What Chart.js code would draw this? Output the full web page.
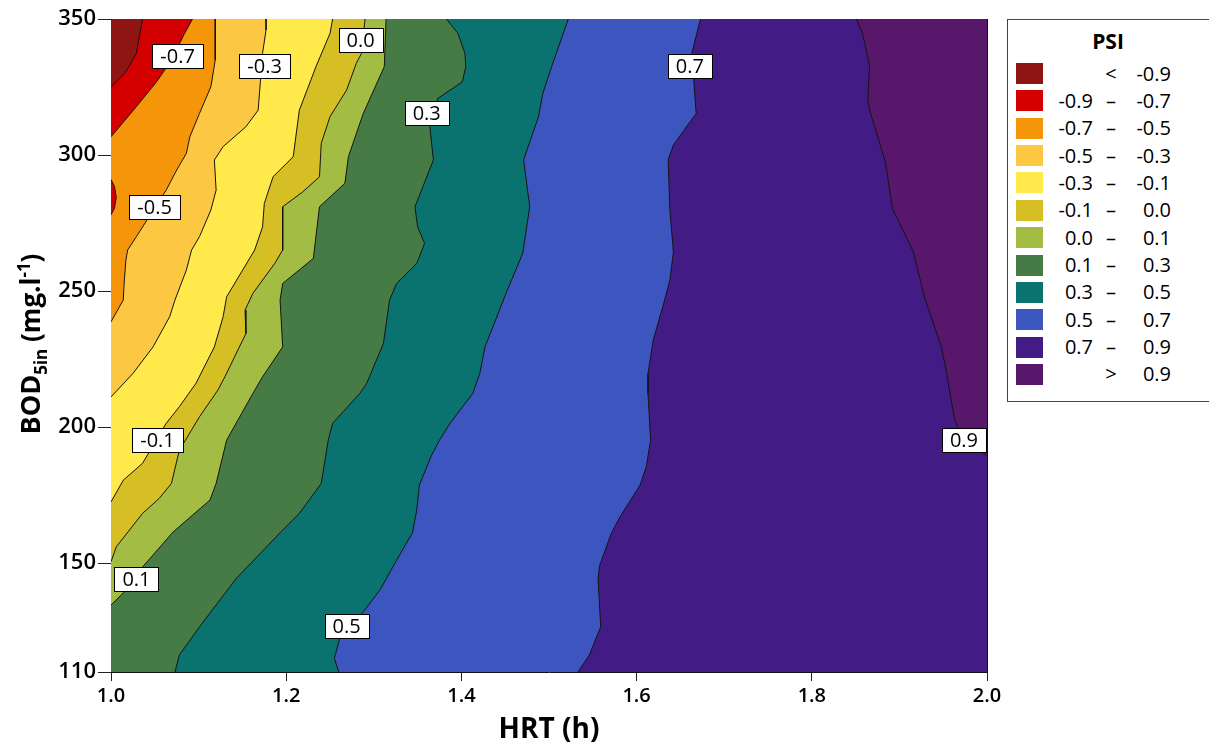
<!DOCTYPE html>
<html>
<head>
<meta charset="utf-8">
<script src="https://cdn.jsdelivr.net/npm/chart.js@4.4.1/dist/chart.umd.min.js"></script>
<style>
  html, body { margin: 0; padding: 0; background: #fff; }
  #wrap { position: relative; width: 1209px; height: 747px; overflow: hidden; font-family: "Open Sans", sans-serif; color: #000; }
  #c { position: absolute; left: 0; top: 0; }
  #legendBox { position: absolute; left: 1007px; top: 19px; width: 230px; height: 383px; border: 1px solid #444; box-sizing: border-box; background: #fff; }
  .lgTitle { position: absolute; left: 1007px; width: 202px; top: 27px; text-align: center; font-weight: bold; font-size: 21px; line-height: 28px; }
  .sw { position: absolute; left: 1016px; width: 27px; height: 21px; }
  .lg { position: absolute; font-size: 20px; line-height: 21px; height: 21px; white-space: pre; }
  .lo { left: 1040px; width: 53px; text-align: right; }
  .sep { left: 1099px; width: 24px; text-align: center; }
  .hi { left: 1120px; width: 51px; text-align: right; }
</style>
</head>
<body>
<div id="wrap">
  <canvas id="c" width="1209" height="747"></canvas>
  <div id="legendBox"></div>
  <div class="lgTitle">PSI</div>
</div>
<script>
// PSI bands (low to high) and legend text
var bandColors = ['#8F1515', '#D40000', '#F5960A', '#FCC844', '#FFE94B', '#D5BF24',
                  '#A3BC44', '#477B46', '#0A7370', '#3D55BE', '#421C84', '#58176A'];
var bandLo  = ['', '-0.9', '-0.7', '-0.5', '-0.3', '-0.1', '0.0', '0.1', '0.3', '0.5', '0.7', ''];
var bandSep = ['<', '–', '–', '–', '–', '–', '–', '–', '–', '–', '–', '>'];
var bandHi  = ['-0.9', '-0.7', '-0.5', '-0.3', '-0.1', '0.0', '0.1', '0.3', '0.5', '0.7', '0.9', '0.9'];

// axis ticks
var xTicks = [1.0, 1.2, 1.4, 1.6, 1.8, 2.0];
var yTicks = [110, 150, 200, 250, 300, 350];

// contour lines [HRT, BOD]
var c_m09 = [[1.036,350],[1.029,337.4],[1.017,330.6],[1.0,324.9]];
var c_m07 = [[1.093,350],[1.084,344.7],[1.069,334.9],[1.052,326.9],[1.029,317.8],[1.0,306.7]];
var c_m07b = [[1.0,291],[1.004,288.5],[1.006,284.5],[1.004,280.5],[1.0,278]];
var c_m05 = [[1.119,350],[1.119,334.9],[1.114,325.1],[1.101,315.3],[1.090,306.7],[1.086,300.6],[1.075,294.5],
             [1.063,287.1],[1.046,278.6],[1.029,270.0],[1.019,265.1],[1.017,261.4],[1.015,252.8],[1.014,246.7],[1.0,238.7]];
var c_m03 = [[1.177,350],[1.177,346.0],[1.173,337.4],[1.168,316.5],[1.154,310.4],[1.128,303.1],[1.118,298.2],
             [1.120,287.1],[1.114,279.8],[1.101,270.0],[1.092,265.1],[1.086,257.7],[1.073,246.7],[1.067,240.6],
             [1.048,229.5],[1.025,219.7],[1.0,211.1]];
var c_m01 = [[1.253,350],[1.250,344.7],[1.234,332.5],[1.215,316.5],[1.208,299.4],[1.185,292.0],[1.175,282.2],
             [1.173,273.6],[1.164,265.1],[1.132,247.9],[1.128,240.6],[1.118,229.5],[1.097,216.1],[1.078,207.5],
             [1.063,201.4],[1.036,186.7],[1.014,180.5],[1.0,172.5]];
var c_00 = [[1.290,350],[1.286,337.4],[1.280,333.7],[1.269,323.9],[1.250,314.1],[1.240,304.3],[1.238,292.0],
            [1.219,286.5],[1.196,281.0],[1.196,265.1],[1.187,260.2],[1.162,249.2],[1.153,243.0],[1.154,234.4],
            [1.130,218.5],[1.122,213.6],[1.101,203.8],[1.078,191.5],[1.069,179.3],[1.055,173.8],[1.036,168.3],
            [1.006,156.0],[1.0,150.5]];
var c_01 = [[1.314,350],[1.312,332.5],[1.288,315.3],[1.271,299.4],[1.267,289.6],[1.238,281.0],[1.231,262.0],
            [1.196,252.8],[1.193,246.7],[1.196,229.5],[1.173,218.5],[1.162,212.4],[1.132,195.2],[1.120,179.3],
            [1.113,173.2],[1.071,161.5],[1.036,148.6],[1.015,139.4],[1.0,134.6]];
var c_03 = [[1.383,350],[1.396,344.7],[1.404,337.4],[1.405,332.5],[1.401,326.9],[1.373,320.8],[1.364,310.4],
            [1.368,298.2],[1.356,288.3],[1.347,281.0],[1.350,273.6],[1.358,267.5],[1.349,260.2],[1.326,252.8],
            [1.318,246.7],[1.311,230.8],[1.292,216.1],[1.284,212.4],[1.253,201.4],[1.248,195.2],[1.240,179.3],
            [1.215,168.3],[1.194,161.5],[1.143,144.4],[1.101,126.6],[1.078,116.2],[1.073,110]];
var c_05 = [[1.522,350],[1.503,332.5],[1.493,322.7],[1.488,314.1],[1.471,298.2],[1.478,281.0],[1.470,263.9],
            [1.451,249.2],[1.430,232.0],[1.427,229.5],[1.421,219.7],[1.413,212.4],[1.387,201.4],[1.375,195.2],
            [1.366,189.7],[1.352,178.7],[1.349,169.5],[1.344,161.1],[1.326,151.1],[1.307,140.1],[1.288,132.1],
            [1.261,122.3],[1.255,115.0],[1.260,110]];
var c_07 = [[1.673,350],[1.663,337.4],[1.668,315.3],[1.642,303.7],[1.636,298.2],[1.638,279.8],[1.642,264.4],
            [1.638,254.0],[1.632,246.7],[1.619,232.0],[1.613,219.7],[1.613,212.4],[1.616,195.2],[1.611,185.4],
            [1.604,178.7],[1.581,167.0],[1.571,160.9],[1.558,149.3],[1.556,144.4],[1.559,126.6],[1.546,116.2],[1.533,110]];
var c_09 = [[1.851,350],[1.858,344.7],[1.866,332.5],[1.864,320.2],[1.866,316.5],[1.884,297.5],[1.892,280.4],
            [1.916,264.4],[1.929,247.3],[1.948,229.5],[1.954,219.7],[1.963,202.6],[1.975,194],[2.0,189.7]];

var contours = [c_m09, c_m07, c_m05, c_m03, c_m01, c_00, c_01, c_03, c_05, c_07, c_09];

// contour labels
var labelText = ['-0.7', '-0.3', '0.0', '-0.5', '0.3', '0.7', '-0.1', '0.1', '0.5', '0.9'];
var labelX = [1.076, 1.1753, 1.285, 1.0497, 1.3604, 1.6608, 1.0531, 1.0291, 1.269, 1.9737];
var labelY = [336.4, 332.7, 342.3, 280.9, 315.4, 332.7, 195.2, 144.1, 126.8, 195.2];

// grid of the data mesh (faint lines)
var meshX = [], meshY = [];
for (var k = 1; k < 14; k++) {
    meshX.push(1 + k / 14);
    meshY.push(110 + k * 240 / 14);
}

function pts(arr){
    return arr.map(function(p){ return {x: p[0], y: p[1]}; });
}

// region left of a contour, closed just outside the plot frame
function regionLeftOf(c){
    var poly = c.slice();
    var last = c[c.length - 1];
    if (last[0] >= 2) { poly.push([2.02, last[1]], [2.02, 108]); }
    if (last[0] > 1) { poly.push([0.98, 108]); }
    poly.push([0.98, 352]);
    return poly;
}

var datasets = [];
// background: highest band
datasets.push({ data: pts([[0.98,108],[2.02,108],[2.02,352],[0.98,352]]), backgroundColor: bandColors[11],
                borderWidth: 0, fill: 'shape', order: 100 });
for (var i = 0; i < contours.length; i++) {
    datasets.push({ data: pts(regionLeftOf(contours[i])), backgroundColor: bandColors[i],
                    borderWidth: 0, fill: 'shape', order: 50 + i });
}
// small red island at the left edge
datasets.push({ data: pts(c_m07b.concat([[0.98,278],[0.98,291]])), backgroundColor: bandColors[1],
                borderWidth: 0, fill: 'shape', order: 51.5 });
// contour lines on top
contours.concat([c_m07b]).forEach(function(c){
    datasets.push({ data: pts(c), borderColor: '#141414', borderWidth: 1, fill: false, order: 0 });
});

// legend rows
var wrap = document.getElementById('wrap');
bandColors.forEach(function(col, i){
    var top = 63 + i * 27.36;
    var sw = document.createElement('div');
    sw.className = 'sw'; sw.style.top = top + 'px'; sw.style.background = col;
    wrap.appendChild(sw);
    [['lo', bandLo[i]], ['sep', bandSep[i]], ['hi', bandHi[i]]].forEach(function(p){
        var d = document.createElement('div');
        d.className = 'lg ' + p[0];
        d.style.top = (top - 0.5) + 'px';
        d.textContent = p[1];
        wrap.appendChild(d);
    });
});

var contourLabels = {
    id: 'contourLabels',
    afterDraw: function(chart){
        var ctx = chart.ctx, x = chart.scales.x, y = chart.scales.y;
        ctx.save();
        ctx.font = '20px "Open Sans"';
        ctx.textAlign = 'center';
        ctx.textBaseline = 'middle';
        for (var i = 0; i < labelText.length; i++) {
            var px = x.getPixelForValue(labelX[i]);
            var py = y.getPixelForValue(labelY[i]);
            var w = Math.round(ctx.measureText(labelText[i]).width + 16);
            var h = 24;
            var left = Math.round(px - w / 2) + 0.5, top = Math.round(py - h / 2) + 0.5;
            ctx.fillStyle = '#fff';
            ctx.fillRect(left, top, w, h);
            ctx.strokeStyle = '#000';
            ctx.lineWidth = 1;
            ctx.strokeRect(left, top, w, h);
            ctx.fillStyle = '#000';
            ctx.fillText(labelText[i], px, py + 1);
        }
        ctx.restore();
    }
};

// y title with subscript / superscript
var yTitle = {
    id: 'yTitle',
    afterDraw: function(chart){
        var ctx = chart.ctx;
        var parts = [
            {t: 'BOD', f: 'bold 27px "Open Sans"', dy: 0},
            {t: '5in', f: 'bold 17px "Open Sans"', dy: 7},
            {t: ' (mg.l', f: 'bold 26px "Open Sans"', dy: 0},
            {t: '-1', f: 'bold 17px "Open Sans"', dy: -10},
            {t: ')', f: 'bold 26px "Open Sans"', dy: 0}
        ];
        ctx.save();
        var total = 0;
        parts.forEach(function(p){ ctx.font = p.f; p.w = ctx.measureText(p.t).width; total += p.w; });
        ctx.translate(40, 344);
        ctx.rotate(-Math.PI / 2);
        ctx.fillStyle = '#000';
        ctx.textBaseline = 'alphabetic';
        ctx.textAlign = 'left';
        var cur = -total / 2;
        parts.forEach(function(p){ ctx.font = p.f; ctx.fillText(p.t, cur, p.dy); cur += p.w; });
        ctx.restore();
    }
};

Chart.defaults.font.family = '"Open Sans", sans-serif';

new Chart(document.getElementById('c'), {
    type: 'line',
    data: { datasets: datasets },
    plugins: [contourLabels, yTitle],
    options: {
        responsive: false,
        animation: false,
        devicePixelRatio: 1,
        events: [],
        layout: { padding: { left: 0, top: 19, right: 222, bottom: 0 } },
        elements: { point: { radius: 0 }, line: { tension: 0 } },
        plugins: { legend: { display: false }, tooltip: { enabled: false } },
        scales: {
            x: {
                type: 'linear', position: 'bottom', min: 1, max: 2, z: 1,
                afterBuildTicks: function(s){ s.ticks = xTicks.map(function(v){ return {value: v}; }); },
                afterFit: function(s){ s.height = 75; },
                ticks: { color: '#000', padding: 3, maxRotation: 0, font: { size: 20, weight: '600' },
                         callback: function(v){ return Number(v).toFixed(1); } },
                grid: { drawOnChartArea: false, tickLength: 9, color: '#222' },
                border: { color: '#111', width: 1 },
                title: { display: true, text: 'HRT (h)', color: '#000', font: { size: 28, weight: 'bold' },
                         padding: { top: 0, bottom: 0 } }
            },
            y: {
                type: 'linear', position: 'left', min: 110, max: 350, z: 1,
                afterBuildTicks: function(s){ s.ticks = yTicks.map(function(v){ return {value: v}; }); },
                afterFit: function(s){ s.width = 111; },
                ticks: { color: '#000', padding: 2, font: { size: 22, weight: '600' } },
                grid: { drawOnChartArea: false, tickLength: 13, color: '#222' },
                border: { color: '#111', width: 1 }
            },
            x2: {
                type: 'linear', position: 'top', min: 1, max: 2, z: 1,
                afterBuildTicks: function(s){ s.ticks = meshX.map(function(v){ return {value: v}; }); },
                afterFit: function(s){ s.height = 0; },
                ticks: { display: false },
                grid: { drawTicks: false, color: 'rgba(255,255,255,0.2)' },
                border: { color: '#111', width: 1 }
            },
            y2: {
                type: 'linear', position: 'right', min: 110, max: 350, z: 1,
                afterBuildTicks: function(s){ s.ticks = meshY.map(function(v){ return {value: v}; }); },
                afterFit: function(s){ s.width = 0; },
                ticks: { display: false },
                grid: { drawTicks: false, color: 'rgba(255,255,255,0.2)' },
                border: { color: '#111', width: 1 }
            }
        }
    }
});
</script>
</body>
</html>
